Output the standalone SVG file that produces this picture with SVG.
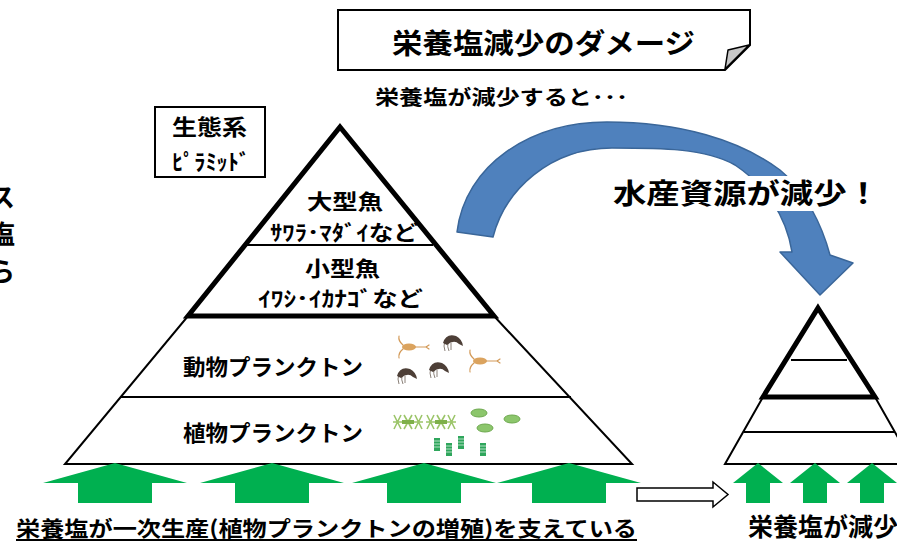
<svg xmlns="http://www.w3.org/2000/svg" width="897" height="543" viewBox="0 0 897 543">
  <style>
    .jp { font-family: "Noto Sans CJK JP", "Noto Sans CJK SC", sans-serif; font-weight: 700; fill: #000; }
    .thin { fill: none; stroke: #000; stroke-width: 2; }
    .thick { fill: none; stroke: #000; stroke-width: 5; stroke-linejoin: miter; }
    .up { fill: #00b050; }
    .cope { fill: #dba35e; }
    .cope-l { fill: none; stroke: #d39a58; stroke-width: 1.2; stroke-linecap: round; }
    .amph { fill: #4d3f37; }
    .amph-l { fill: none; stroke: #8a8078; stroke-width: 1; }
    .diat { fill: none; stroke: #9cc56a; stroke-width: 1.6; }
    .oval { fill: #8cc66c; stroke: #6ea94f; stroke-width: 1; }
    .stack { fill: #2fa65c; }
  </style>

  <rect width="897" height="543" fill="#fff"/>

  <!-- fragments of text running in from the left edge -->
  <g id="left-fragment">
    <text class="jp" x="15" y="207" font-size="26" text-anchor="end">ス</text>
    <text class="jp" x="15" y="244" font-size="26" text-anchor="end">塩</text>
    <text class="jp" x="15" y="281" font-size="26" text-anchor="end">ら</text>
  </g>

  <!-- title banner with folded corner -->
  <g id="title">
    <path d="M338,10 H750 V45 L725,70 H338 Z" fill="#fff" stroke="#000" stroke-width="2"/>
    <path d="M749,45 L728,50 L725,69 Z" fill="#c8c8c8" stroke="#000" stroke-width="1.5" stroke-linejoin="round"/>
    <text class="jp" x="392" y="54" font-size="28" textLength="303" lengthAdjust="spacingAndGlyphs">栄養塩減少のダメージ</text>
  </g>

  <g id="subtitle">
    <text class="jp" x="375" y="105" font-size="20" textLength="253" lengthAdjust="spacingAndGlyphs">栄養塩が減少すると･･･</text>
  </g>

  <!-- ecosystem label box -->
  <g id="eco-label">
    <rect x="155" y="107" width="110" height="70" fill="#fff" stroke="#000" stroke-width="2"/>
    <text class="jp" x="172" y="135" font-size="22" textLength="75" lengthAdjust="spacingAndGlyphs">生態系</text>
    <text class="jp" x="172" y="170" font-size="22" textLength="78" lengthAdjust="spacingAndGlyphs">ﾋﾟﾗﾐｯﾄﾞ</text>
  </g>

  <!-- main pyramid -->
  <g id="pyramid-main">
    <polygon class="thin" points="188,316 494,316 632,464 65,464" fill="#fff"/>
    <line class="thin" x1="120" y1="397" x2="571" y2="397"/>
    <polygon class="thick" points="340,127 494,316 188,316" fill="#fff"/>
    <line class="thin" x1="247" y1="245" x2="433" y2="245"/>
  </g>

  <g id="level-large-fish">
    <text class="jp" x="307" y="209" font-size="21" textLength="76" lengthAdjust="spacingAndGlyphs">大型魚</text>
    <text class="jp" x="270" y="240" font-size="21" textLength="148" lengthAdjust="spacingAndGlyphs">ｻﾜﾗ･ﾏﾀﾞｲなど</text>
  </g>

  <g id="level-small-fish">
    <text class="jp" x="305" y="276" font-size="21" textLength="75" lengthAdjust="spacingAndGlyphs">小型魚</text>
    <text class="jp" x="258" y="306" font-size="21" textLength="165" lengthAdjust="spacingAndGlyphs">ｲﾜｼ･ｲｶﾅｺﾞなど</text>
  </g>

  <g id="level-zooplankton">
    <text class="jp" x="183" y="375" font-size="22" textLength="180" lengthAdjust="spacingAndGlyphs">動物プランクトン</text>
    <!-- copepods -->
    <g transform="translate(409,347)">
      <ellipse class="cope" cx="0" cy="0" rx="7" ry="3.5"/>
      <path class="cope-l" d="M6,0 H17 M17,0 L20,-2 M17,0 L20,2 M-6,-2 Q-11,-6 -10,-11 M-6,2 Q-11,6 -10,11"/>
    </g>
    <g transform="translate(480,361)">
      <ellipse class="cope" cx="0" cy="0" rx="7" ry="3.5"/>
      <path class="cope-l" d="M6,0 H17 M17,0 L20,-2 M17,0 L20,2 M-6,-2 Q-11,-6 -10,-11 M-6,2 Q-11,6 -10,11"/>
    </g>
    <!-- amphipods -->
    <g transform="translate(452,341)">
      <path class="amph-l" d="M-7,0 Q-9,5 -7,10 M-4,1 Q-5,6 -3,10 M-1,2 V9"/>
      <path class="amph" d="M-9,2 Q-6,-8 4,-5 Q10,-2 11,5 L7,3 Q2,-2 -5,4 Z"/>
    </g>
    <g transform="translate(406,374)">
      <path class="amph-l" d="M-7,0 Q-9,5 -7,10 M-4,1 Q-5,6 -3,10 M-1,2 V9"/>
      <path class="amph" d="M-9,2 Q-6,-8 4,-5 Q10,-2 11,5 L7,3 Q2,-2 -5,4 Z"/>
    </g>
    <g transform="translate(438,368)">
      <path class="amph-l" d="M-7,0 Q-9,5 -7,10 M-4,1 Q-5,6 -3,10 M-1,2 V9"/>
      <path class="amph" d="M-9,2 Q-6,-8 4,-5 Q10,-2 11,5 L7,3 Q2,-2 -5,4 Z"/>
    </g>
  </g>

  <g id="level-phytoplankton">
    <text class="jp" x="183" y="441" font-size="22" textLength="180" lengthAdjust="spacingAndGlyphs">植物プランクトン</text>
    <!-- chain diatoms -->
    <g transform="translate(408,422)">
      <path class="diat" d="M-15,0 H15 M-14,-7 L-7,7 M-14,7 L-7,-7 M-4,-7 L4,7 M-4,7 L4,-7 M7,-7 L14,7 M7,7 L14,-7"/>
      <rect x="-6" y="-2" width="12" height="4" fill="#7eb04a"/>
    </g>
    <g transform="translate(441,422)">
      <path class="diat" d="M-15,0 H15 M-14,-7 L-7,7 M-14,7 L-7,-7 M-4,-7 L4,7 M-4,7 L4,-7 M7,-7 L14,7 M7,7 L14,-7"/>
      <rect x="-6" y="-2" width="12" height="4" fill="#7eb04a"/>
    </g>
    <!-- round cells -->
    <ellipse class="oval" cx="479" cy="413" rx="8" ry="4"/>
    <ellipse class="oval" cx="512" cy="419" rx="8" ry="4"/>
    <ellipse class="oval" cx="485" cy="428" rx="8" ry="4"/>
    <!-- colony stacks -->
    <g class="stack">
      <rect x="434" y="438" width="6" height="13"/>
      <rect x="446" y="443" width="6" height="13"/>
      <rect x="458" y="436" width="6" height="13"/>
      <rect x="480" y="443" width="6" height="13"/>
    </g>
    <g stroke="#fff" stroke-width="0.8" opacity="0.8">
      <path d="M434,441 h6 M434,444 h6 M434,447 h6 M446,446 h6 M446,449 h6 M446,452 h6 M458,439 h6 M458,442 h6 M458,445 h6 M480,446 h6 M480,449 h6 M480,452 h6"/>
    </g>
  </g>

  <!-- small pyramid after the decrease -->
  <g id="pyramid-small">
    <polygon class="thin" points="763,397 875,397 913,464 725,464" fill="#fff"/>
    <line class="thin" x1="744" y1="432" x2="895" y2="432"/>
    <polygon class="thick" points="818,308 875,397 763,397" fill="#fff"/>
    <line class="thin" x1="791" y1="360" x2="847" y2="360"/>
  </g>

  <!-- connectors -->
  <g id="connectors">
    <!-- curved arrow over to the small pyramid -->
    <path d="M457,232 C465,165 530,122 607,122 C680,122 740,140 780,170 C805,190 822,225 830,255 L853,263 L820,295 L780,252 L792,252 C786,215 765,185 735,165 C705,148 660,148 612,148 C550,148 505,190 493,237 Z"
          fill="#4f81bd" stroke="#3a6699" stroke-width="1.5" stroke-linejoin="round"/>
    <!-- nutrient supply arrows, main pyramid -->
    <path class="up" d="M115,463 L187,483 L152,483 L152,503 L78,503 L78,483 L43,483 Z"/>
    <path class="up" d="M272,463 L344,483 L309,483 L309,503 L235,503 L235,483 L200,483 Z"/>
    <path class="up" d="M424,463 L496,483 L461,483 L461,503 L387,503 L387,483 L352,483 Z"/>
    <path class="up" d="M569,463 L641,483 L606,483 L606,503 L532,503 L532,483 L497,483 Z"/>
    <!-- transition arrow -->
    <path d="M637,488 H713 V482 L728,494.5 L713,507 V501 H637 Z" fill="#fff" stroke="#000" stroke-width="1.5"/>
    <!-- nutrient supply arrows, small pyramid -->
    <path class="up" d="M758,463 L783,483 L770,483 L770,503 L746,503 L746,483 L733,483 Z"/>
    <path class="up" d="M815,463 L840,483 L827,483 L827,503 L803,503 L803,483 L790,483 Z"/>
    <path class="up" d="M872,463 L897,483 L884,483 L884,503 L860,503 L860,483 L847,483 Z"/>
  </g>

  <g id="result-label">
    <rect x="606" y="176" width="282" height="35" fill="#fff"/>
    <text class="jp" x="613" y="204" font-size="28" textLength="267" lengthAdjust="spacingAndGlyphs">水産資源が減少！</text>
  </g>

  <g id="caption-left">
    <text class="jp" x="16" y="536" font-size="21" textLength="621" lengthAdjust="spacingAndGlyphs">栄養塩が一次生産(植物プランクトンの増殖)を支えている</text>
    <line x1="16" y1="540" x2="637" y2="540" stroke="#000" stroke-width="2"/>
  </g>

  <g id="caption-right">
    <text class="jp" x="748" y="536" font-size="25">栄養塩が減少</text>
  </g>
</svg>
